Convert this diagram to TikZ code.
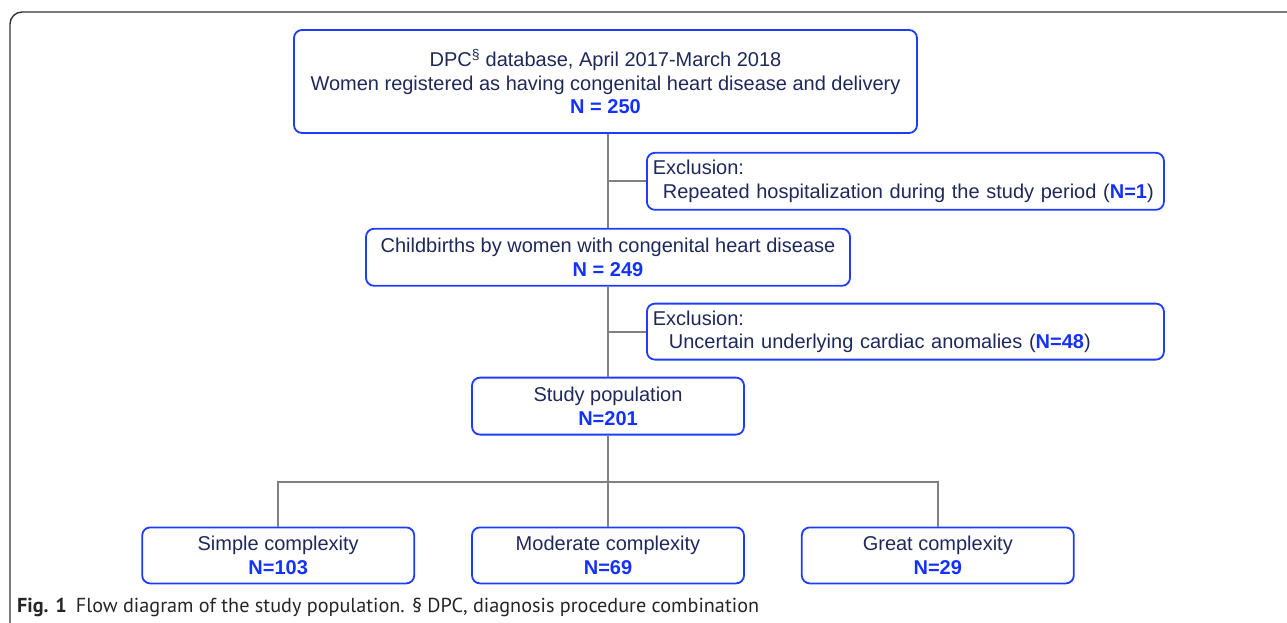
\documentclass[tikz,border=0pt]{standalone}
\usepackage{fontspec}
\setmainfont{Liberation Sans}
\newfontfamily\capfont{PT Sans}
\usepackage{tikz}
\usetikzlibrary{positioning}

\definecolor{boxblue}{RGB}{30,60,255}
\definecolor{numblue}{RGB}{20,50,255}
\definecolor{textnavy}{RGB}{30,40,90}
\definecolor{linegray}{RGB}{128,128,128}
\definecolor{framegray}{RGB}{50,50,50}

\newcommand{\num}[1]{\textcolor{numblue}{\textbf{#1}}}

\begin{document}
\begin{tikzpicture}[
    x=1pt, y=1pt,
    node distance = 95pt and 56pt,
    font = \fontsize{20}{23.5}\selectfont\color{textnavy},
    box/.style = {rectangle, draw=boxblue, line width=1.8pt, rounded corners=8pt,
                  inner sep=0pt, minimum height=57pt, align=center},
    exbox/.style = {box, text width=505pt, inner xsep=6pt, align=left},
    link/.style = {draw=linegray, line width=2pt}
]
\useasboundingbox (0,0) rectangle (1287,-622);

% Outer frame
\draw[framegray, line width=1.4pt, rounded corners=12pt] (10,-640) -- (10,-12) -- (1300,-12);

% Main flow
\node[box, minimum width=623pt, minimum height=103pt] (dpc) at (605.5,-81.5)
    {DPC\textsuperscript{\S} database, April 2017-March 2018\\
     Women registered as having congenital heart disease and delivery\\
     \num{N = 250}};
\node[box, minimum width=484pt, below=94pt of dpc.south, anchor=north, xshift=2.5pt] (births)
    {Childbirths by women with congenital heart disease\\ \num{N = 249}};
\node[box, minimum width=272pt, below=90pt of births] (study)
    {Study population\\ \num{N=201}};

% Exclusions
\node[exbox, anchor=north west] (excl1) at ([xshift=40.5pt, yshift=-18pt]dpc.south)
    {Exclusion:\\ \hspace*{10pt}Repeated hospitalization during the study period (\num{N=1})};
\node[exbox, anchor=north west, minimum height=56pt] (excl2) at ([xshift=38pt, yshift=-16pt]births.south)
    {Exclusion:\\ \hspace*{16pt}Uncertain underlying cardiac anomalies (\num{N=48})};

% Complexity groups
\node[box, minimum width=272pt, minimum height=56pt, below=91pt of study] (moderate)
    {Moderate complexity\\ \num{N=69}};
\node[box, minimum width=272pt, minimum height=56pt, left=56pt of moderate] (simple)
    {Simple complexity\\ \num{N=103}};
\node[box, minimum width=272pt, minimum height=56pt, right=56pt of moderate] (great)
    {Great complexity\\ \num{N=29}};

% Connectors
\draw[link] (births.north |- dpc.south) -- (births.north);
\draw[link] (births.south) -- (study.north);
\draw[link] (excl1.west) -- (excl1.west -| births.north);
\draw[link] (excl2.west) -- (excl2.west -| births.south);
\draw[link] (study.south) -- ++(0,-46) coordinate (split);
\draw[link] (simple.north) |- (split) -| (great.north);
\draw[link] (split) -- (moderate.north);

% Caption
\node[anchor=base west, inner sep=0pt, font=\capfont\fontsize{20.2}{24}\selectfont\color{black!85}] (caption) at (17,-612)
    {\textbf{Fig. 1}\hspace{9pt}Flow diagram of the study population. \S\ DPC, diagnosis procedure combination};
\end{tikzpicture}
\end{document}
